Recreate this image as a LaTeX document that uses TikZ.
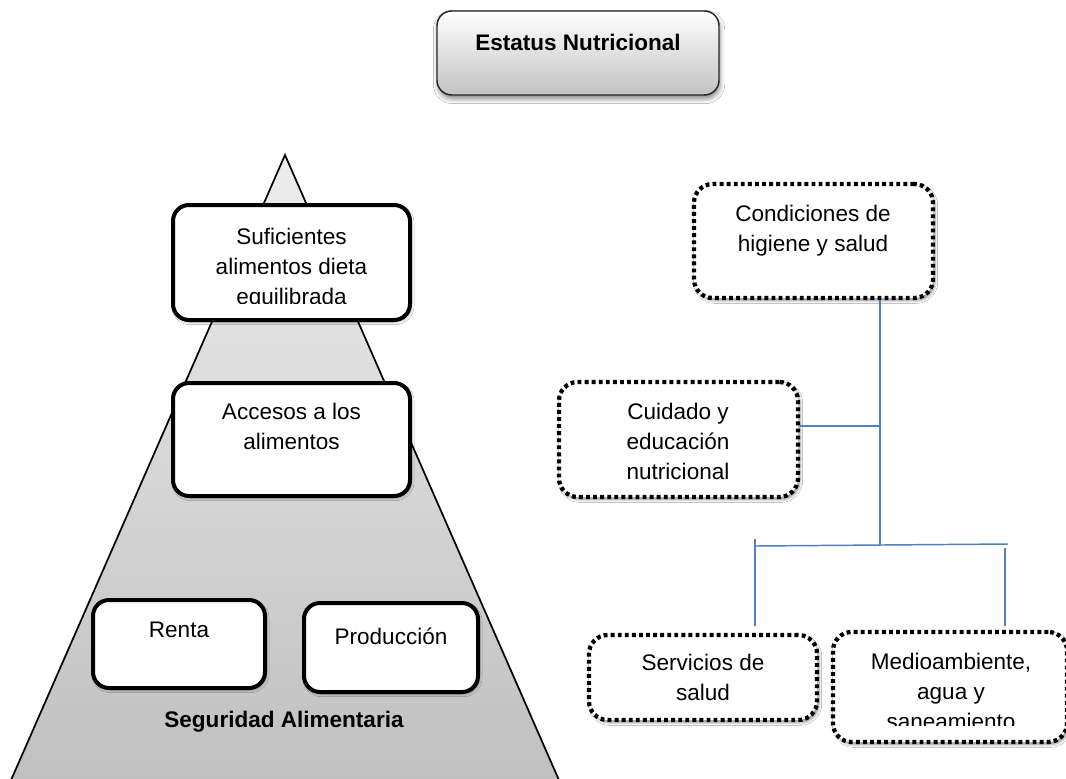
\documentclass[tikz,border=0pt]{standalone}
\usepackage{fontspec}
\setmainfont{Liberation Sans}
\usetikzlibrary{fit,shadows.blur}
\definecolor{lnblue}{HTML}{4F81BD}
\begin{document}
\begin{tikzpicture}[x=0.75pt,y=-0.75pt,
  txt/.style={font=\fontsize{16.9}{22.5}\selectfont, align=center, inner sep=0pt, text=black},
  btxt/.style={txt, font=\fontsize{16.9}{22.5}\selectfont\bfseries},
  solidbox/.style={draw=black, line width=3pt, rounded corners=12pt, fill=white, inner sep=0pt,
    blur shadow={shadow xshift=1pt, shadow yshift=-1.5pt, shadow blur radius=2pt, shadow opacity=35}},
  dotbox/.style={draw=black, line width=3.2pt, dash pattern=on 2.9pt off 2.4pt, rounded corners=14pt, fill=white, inner sep=0pt,
    blur shadow={shadow xshift=1.5pt, shadow yshift=-2pt, shadow blur radius=2pt, shadow opacity=40}},
  topbox/.style={draw=black!85, line width=1.1pt, rounded corners=11pt, top color=white, bottom color=black!24, inner sep=0pt,
    blur shadow={shadow xshift=0.8pt, shadow yshift=-3pt, shadow blur radius=3.5pt, shadow opacity=45}},
  pyramid/.style={draw=black, line width=1.3pt, top color=black!7, bottom color=black!25},
  conn/.style={draw=lnblue, line width=1.1pt}
]
\useasboundingbox (0,0) rectangle (1066,778);
\path[fill=white] (0,0) rectangle (1066,778);

% pyramid
\path[pyramid] (285,155) -- (563.3,790) -- (6.7,790) -- cycle;

% title box
\node[topbox, fit={(437,11) (719,95)}] (top) {};
\node[btxt] (t-top) at (578,42) {Estatus Nutricional};

% pyramid boxes
\node[solidbox, fit={(173,205) (410,320)}] (suf) {};
\node[solidbox, fit={(173,383) (410,496)}] (acc) {};
\node[solidbox, fit={(93,600) (265,688)}] (renta) {};
\node[solidbox, fit={(304,603) (478,692)}] (prod) {};

\begin{scope}
\clip (150,190) rectangle (430,303);
\node[txt] (t-suf) at (291.5,268.5) {Suficientes\\alimentos dieta\\equilibrada};
\end{scope}
\node[txt] (t-acc) at (291.5,426.5) {Accesos a los\\alimentos};
\node[txt] (t-renta) at (179,630) {Renta};
\node[txt] (t-prod) at (391,636) {Producción};
\node[btxt] (t-seg) at (284,722) {Seguridad Alimentaria};

% connector junctions
\coordinate (j1) at (880,426);
\coordinate (j2) at (880,545);
\coordinate (hl) at (755,546);
\coordinate (hr) at (1008,544);
\coordinate (vl1) at (755,539);
\coordinate (vl2) at (755,626);
\coordinate (vr1) at (1005,548);
\coordinate (vr2) at (1005,626);

% dotted boxes
\node[dotbox, fit={(694,184) (933,298)}] (cond) {};
\node[dotbox, fit={(559,382) (798,497)}] (cuid) {};
\node[dotbox, fit={(589,635) (817,720)}] (serv) {};
\node[dotbox, fit={(833,632) (1067,742)}] (medio) {};

\draw[conn] (cond.south -| j1) -- (j2);
\draw[conn] (cuid.east |- j1) -- (j1);
\draw[conn] (hl) -- (hr);
\draw[conn] (vl1) -- (vl2);
\draw[conn] (vr1) -- (vr2);

\node[txt] (t-cond) at (813,231) {Condiciones de\\higiene y salud};
\node[txt] (t-cuid) at (678,441.5) {Cuidado y\\educación\\nutricional};
\node[txt] (t-serv) at (703,677) {Servicios de\\salud};
\begin{scope}
\clip (835,640) rectangle (1060,725);
\node[txt] (t-medio) at (951,691) {Medioambiente,\\agua y\\saneamiento};
\end{scope}
\end{tikzpicture}
\end{document}
